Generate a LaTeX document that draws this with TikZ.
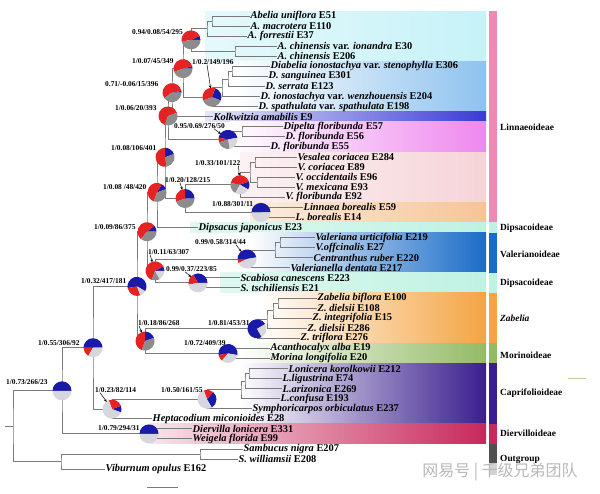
\documentclass[tikz,border=0pt]{standalone}
\usepackage{fontspec}
\setmainfont{Liberation Serif}
\newfontfamily\cjkfont{Noto Sans CJK SC}
\usetikzlibrary{arrows.meta}
\definecolor{treeg}{HTML}{7A7A7A}
\definecolor{pR}{HTML}{E42322}
\definecolor{pB}{HTML}{1A1AA8}
\definecolor{pG}{HTML}{8C8C8C}
\definecolor{pL}{HTML}{D6D6DE}
\definecolor{bAb}{HTML}{C6F2F8}
\definecolor{bDia}{HTML}{8EC2EE}
\definecolor{bKol}{HTML}{3A3AD6}
\definecolor{bDip}{HTML}{EE88EE}
\definecolor{bVes}{HTML}{F6D4D8}
\definecolor{bLin}{HTML}{F6C496}
\definecolor{bMint}{HTML}{BFF2E2}
\definecolor{bVal}{HTML}{1A6CC8}
\definecolor{bZab}{HTML}{F4A443}
\definecolor{bMor}{HTML}{93BB66}
\definecolor{bCap}{HTML}{3A1E8E}
\definecolor{bDie}{HTML}{C8285C}
\definecolor{sLin}{HTML}{EC8CB4}
\definecolor{sOut}{HTML}{505050}
\definecolor{tanc}{HTML}{D8C8A0}
\newcommand\pierad{9.5pt}
\newcommand\pseg[4]{\fill[#4] (#1) -- ++(#2:\pierad) arc[start angle=#2, end angle=#3, radius=\pierad] -- cycle;}
\newcommand\mypie[2]{\foreach \sa/\sb/\sc in {#2}{\pseg{#1}{\sa}{\sb}{\sc}}}
\begin{document}
\begin{tikzpicture}[x=1pt,y=-1pt,
  br/.style={draw=treeg, line width=1pt},
  leaf/.style={anchor=west, inner sep=0.5pt, font=\fontsize{10.4}{11}\selectfont\bfseries},
  plab/.style={anchor=west, inner sep=0pt, font=\fontsize{7.4}{8}\selectfont\bfseries},
  grp/.style={anchor=west, inner sep=0pt, font=\fontsize{9.4}{10}\selectfont\bfseries},
  arr/.style={-{Stealth[length=3pt,width=2.6pt]}, line width=0.5pt, shorten >=9pt}]
\useasboundingbox (0,0) rectangle (600,493);
\fill[white] (0,0) rectangle (600,493);
% clade bands
\shade[left color=bAb!45, right color=bAb] (205,11) rectangle (486,61.3);
\shade[left color=white, right color=bDia] (235,61.3) rectangle (486,111.7);
\shade[left color=bKol!12, right color=bKol] (205,111.7) rectangle (486,121.7);
\shade[left color=white, right color=bDip] (230,121.7) rectangle (486,152);
\shade[left color=bVes!30, right color=bVes] (240,152) rectangle (486,202.3);
\shade[left color=bLin!30, right color=bLin] (250,202.3) rectangle (486,222.4);
\shade[left color=bMint!50, right color=bMint] (190,222.4) rectangle (486,232.5);
\shade[left color=white, right color=bVal] (250,232.5) rectangle (486,272.8);
\shade[left color=bMint!50, right color=bMint] (220,272.8) rectangle (486,292.9);
\shade[left color=white, right color=bZab] (260,292.9) rectangle (486,343.2);
\shade[left color=white, right color=bMor] (240,343.2) rectangle (486,363.4);
\shade[left color=white, right color=bCap] (240,363.4) rectangle (486,423.8);
\shade[left color=bDie!12, right color=bDie] (150,423.8) rectangle (486,443.9);
% side strip
\fill[sLin] (489,11) rectangle (497,222.4);
\fill[bMint] (489,222.4) rectangle (497,232.5);
\fill[bVal] (489,232.5) rectangle (497,272.8);
\fill[bMint] (489,272.8) rectangle (497,292.9);
\fill[bZab] (489,292.9) rectangle (497,343.2);
\fill[bMor] (489,343.2) rectangle (497,363.4);
\fill[bCap] (489,363.4) rectangle (497,423.8);
\fill[bDie] (489,423.8) rectangle (497,443.9);
\fill[sOut] (489,443.9) rectangle (497,475);
% leaves
\node[leaf] (l0) at (250,16.0) {\textit{Abelia uniflora} E51};
\node[leaf] (l1) at (250,26.1) {\textit{A. macrotera} E110};
\node[leaf] (l2) at (247,36.1) {\textit{A. forrestii} E37};
\node[leaf] (l3) at (277,46.2) {\textit{A. chinensis} var. \textit{ionandra} E30};
\node[leaf] (l4) at (277,56.3) {\textit{A. chinensis} E206};
\node[leaf] (l5) at (270,66.4) {\textit{Diabelia ionostachya} var. \textit{stenophylla} E306};
\node[leaf] (l6) at (268,76.4) {\textit{D. sanguinea} E301};
\node[leaf] (l7) at (265,86.5) {\textit{D. serrata} E123};
\node[leaf] (l8) at (260,96.6) {\textit{D. ionostachya} var. \textit{wenzhouensis} E204};
\node[leaf] (l9) at (258,106.6) {\textit{D. spathulata} var. \textit{spathulata} E198};
\node[leaf] (l10) at (213,116.7) {\textit{Kolkwitzia amabilis} E9};
\node[leaf] (l11) at (283,126.8) {\textit{Dipelta floribunda} E57};
\node[leaf] (l12) at (285,136.8) {\textit{D. floribunda} E56};
\node[leaf] (l13) at (270,146.9) {\textit{D. floribunda} E55};
\node[leaf] (l14) at (297,157.0) {\textit{Vesalea coriacea} E284};
\node[leaf] (l15) at (297,167.1) {\textit{V. coriacea} E89};
\node[leaf] (l16) at (295,177.1) {\textit{V. occidentails} E96};
\node[leaf] (l17) at (295,187.2) {\textit{V. mexicana} E93};
\node[leaf] (l18) at (285,197.3) {\textit{V. floribunda} E92};
\node[leaf] (l19) at (303,207.3) {\textit{Linnaea borealis} E59};
\node[leaf] (l20) at (295,217.4) {\textit{L. borealis} E14};
\node[leaf] (l21) at (198,227.5) {\textit{Dipsacus japonicus} E23};
\node[leaf] (l22) at (315,237.5) {\textit{Valeriana urticifolia} E219};
\node[leaf] (l23) at (315,247.6) {\textit{V.offcinalis} E27};
\node[leaf] (l24) at (313,257.7) {\textit{Centranthus ruber} E220};
\node[leaf] (l25) at (290,267.8) {\textit{Valerianella dentata} E217};
\node[leaf] (l26) at (240,277.8) {\textit{Scabiosa canescens} E223};
\node[leaf] (l27) at (240,287.9) {\textit{S. tschiliensis} E21};
\node[leaf] (l28) at (317,298.0) {\textit{Zabelia biflora} E100};
\node[leaf] (l29) at (317,308.0) {\textit{Z. dielsii} E108};
\node[leaf] (l30) at (312,318.1) {\textit{Z. integrifolia} E15};
\node[leaf] (l31) at (307,328.2) {\textit{Z. dielsii} E286};
\node[leaf] (l32) at (300,338.2) {\textit{Z. triflora} E276};
\node[leaf] (l33) at (270,348.3) {\textit{Acanthocalyx alba} E19};
\node[leaf] (l34) at (270,358.4) {\textit{Morina longifolia} E20};
\node[leaf] (l35) at (288,368.5) {\textit{Lonicera korolkowii} E212};
\node[leaf] (l36) at (282,378.5) {\textit{L.ligustrina} E74};
\node[leaf] (l37) at (282,388.6) {\textit{L.arizonica} E269};
\node[leaf] (l38) at (280,398.7) {\textit{L.confusa} E193};
\node[leaf] (l39) at (252,408.7) {\textit{Symphoricarpos orbiculatus} E237};
\node[leaf] (l40) at (152,418.8) {\textit{Heptacodium miconioides} E28};
\node[leaf] (l41) at (192,428.9) {\textit{Diervilla lonicera} E331};
\node[leaf] (l42) at (192,438.9) {\textit{Weigela florida} E99};
\node[leaf] (l43) at (243,449.0) {\textit{Sambucus nigra} E207};
\node[leaf] (l44) at (238,459.1) {\textit{S. williamsii} E208};
\node[leaf] (l45) at (105,469.2) {\textit{Viburnum opulus} E162};
% internal nodes
\coordinate (Ab01) at (212,21.05);
\coordinate (Ab) at (207,28.6);
\coordinate (Ach) at (235,51.25);
\coordinate (N094) at (191,39.9);
\coordinate (D56) at (232,71.4);
\coordinate (D567) at (228,79.0);
\coordinate (D5678) at (222,87.8);
\coordinate (Diab) at (212,97.2);
\coordinate (N107) at (183,68.6);
\coordinate (N071) at (172,92.6);
\coordinate (Dp1112) at (242,131.8);
\coordinate (Dip) at (228,139.4);
\coordinate (N106) at (168,116.0);
\coordinate (V1415) at (255,162.0);
\coordinate (V1617) at (257,182.2);
\coordinate (V4) at (250,172.1);
\coordinate (Ves) at (240,184.7);
\coordinate (Lin) at (261,212.4);
\coordinate (N120) at (185,198.5);
\coordinate (N108a) at (165,157.3);
\coordinate (N108b) at (157,192.4);
\coordinate (Va2223) at (280,242.6);
\coordinate (Va3) at (275,250.1);
\coordinate (Val) at (247,259.0);
\coordinate (Sca) at (198,282.9);
\coordinate (N111) at (155,270.9);
\coordinate (N109) at (147,231.7);
\coordinate (Z2829) at (278,303.0);
\coordinate (Z3) at (273,310.6);
\coordinate (Z4) at (267,319.4);
\coordinate (Zab) at (257,328.8);
\coordinate (Mor) at (228,353.4);
\coordinate (N118) at (145,341.1);
\coordinate (N132) at (137,286.4);
\coordinate (L1) at (249,373.5);
\coordinate (L2) at (245,381.0);
\coordinate (L3) at (241,389.9);
\coordinate (N150) at (207,399.3);
\coordinate (N123) at (112,409.1);
\coordinate (N155) at (93,347.7);
\coordinate (Die) at (149,433.9);
\coordinate (N173) at (62,390.8);
\coordinate (Sam) at (200,454.0);
\coordinate (Out) at (61,461.6);
\coordinate (Root) at (13,426.2);
\coordinate (stub) at (5,426.2);
% branches
\draw[br] (l0.west) -| (Ab01) |- (l1.west);
\draw[br] (Ab01) -| (Ab) |- (l2.west);
\draw[br] (l3.west) -| (Ach) |- (l4.west);
\draw[br] (Ab) -| (N094) |- (Ach);
\draw[br] (l5.west) -| (D56) |- (l6.west);
\draw[br] (D56) -| (D567) |- (l7.west);
\draw[br] (D567) -| (D5678) |- (l8.west);
\draw[br] (D5678) -| (Diab) |- (l9.west);
\draw[br] (N094) -| (N107) |- (Diab);
\draw[br] (N107) -| (N071) |- (l10.west);
\draw[br] (l11.west) -| (Dp1112) |- (l12.west);
\draw[br] (Dp1112) -| (Dip) |- (l13.west);
\draw[br] (N071) -| (N106) |- (Dip);
\draw[br] (l14.west) -| (V1415) |- (l15.west);
\draw[br] (l16.west) -| (V1617) |- (l17.west);
\draw[br] (V1415) -| (V4) |- (V1617);
\draw[br] (V4) -| (Ves) |- (l18.west);
\draw[br] (l19.west) -| (Lin) |- (l20.west);
\draw[br] (Ves) -| (N120) |- (Lin);
\draw[br] (N106) -| (N108a) |- (N120);
\draw[br] (N108a) -| (N108b) |- (l21.west);
\draw[br] (l22.west) -| (Va2223) |- (l23.west);
\draw[br] (Va2223) -| (Va3) |- (l24.west);
\draw[br] (Va3) -| (Val) |- (l25.west);
\draw[br] (l26.west) -| (Sca) |- (l27.west);
\draw[br] (Val) -| (N111) |- (Sca);
\draw[br] (N108b) -| (N109) |- (N111);
\draw[br] (l28.west) -| (Z2829) |- (l29.west);
\draw[br] (Z2829) -| (Z3) |- (l30.west);
\draw[br] (Z3) -| (Z4) |- (l31.west);
\draw[br] (Z4) -| (Zab) |- (l32.west);
\draw[br] (l33.west) -| (Mor) |- (l34.west);
\draw[br] (Zab) -| (N118) |- (Mor);
\draw[br] (N109) -| (N132) |- (N118);
\draw[br] (l35.west) -| (L1) |- (l36.west);
\draw[br] (L1) -| (L2) |- (l37.west);
\draw[br] (L2) -| (L3) |- (l38.west);
\draw[br] (L3) -| (N150) |- (l39.west);
\draw[br] (N150) -| (N123) |- (l40.west);
\draw[br] (N132) -| (N155) |- (N123);
\draw[br] (l41.west) -| (Die) |- (l42.west);
\draw[br] (N155) -| (N173) |- (Die);
\draw[br] (l43.west) -| (Sam) |- (l44.west);
\draw[br] (Sam) -| (Out) |- (l45.west);
\draw[br] (N173) -| (Root) |- (Out);
\draw[br] (stub) -- (Root);
% pies
\mypie{N094}{0/25/pB,25/190/pR,190/360/pG}
\mypie{N107}{0/15/pB,15/200/pR,200/360/pG}
\mypie{N071}{0/10/pB,10/215/pR,215/360/pG}
\mypie{N106}{20/250/pR,250/380/pG}
\mypie{Diab}{-20/70/pB,70/200/pR,200/340/pG}
\mypie{Dip}{10/170/pB,170/200/pR,200/280/pG,280/370/pL}
\mypie{N108a}{20/90/pB,90/280/pR,280/380/pG}
\mypie{N108b}{20/60/pB,60/250/pR,250/380/pG}
\mypie{N120}{0/90/pB,90/200/pR,200/360/pG}
\mypie{Ves}{-30/20/pB,20/170/pR,170/240/pG,240/330/pL}
\mypie{Lin}{0/180/pB,180/360/pL}
\mypie{N109}{0/40/pB,40/230/pR,230/360/pG}
\mypie{N111}{0/30/pB,30/250/pR,250/300/pG,300/360/pL}
\mypie{Val}{10/180/pB,180/205/pR,205/370/pL}
\mypie{Sca}{0/120/pB,120/190/pR,190/360/pL}
\mypie{N132}{-30/190/pB,190/290/pR,290/330/pL}
\mypie{N118}{20/90/pB,90/250/pR,250/380/pG}
\mypie{Zab}{30/300/pB,300/390/pL}
\mypie{Mor}{-10/190/pB,190/230/pR,230/350/pL}
\mypie{N155}{0/180/pB,180/240/pR,240/360/pL}
\mypie{N173}{0/180/pB,180/360/pL}
\mypie{N123}{-20/20/pB,20/110/pR,110/340/pL}
\mypie{N150}{-60/50/pB,50/110/pR,110/300/pL}
\mypie{Die}{0/180/pB,180/360/pL}
% support labels
\node[plab] (t094) at (132,32) {0.94/0.08/54/295};
\node[plab] (t107) at (132,61) {1/0.07/45/349};
\node[plab] (t12) at (192,62) {1/0.2/149/196};
\node[plab] (t071) at (105,84) {0.71/-0.06/15/396};
\node[plab] (t106) at (115,108) {1/0.06/20/393};
\node[plab] (t095) at (174,126) {0.95/0.69/276/50};
\node[plab] (t108a) at (111,148) {1/0.08/106/401};
\node[plab] (t133) at (195,163) {1/0.33/101/122};
\node[plab] (t120) at (165,180) {1/0.20/128/215};
\node[plab] (t108b) at (103,187) {1/0.08 /48/420};
\node[plab] (t188) at (212,204) {1/0.88/301/11};
\node[plab] (t109) at (94,227) {1/0.09/86/375};
\node[plab] (t111) at (148,252) {1/0.11/63/307};
\node[plab] (t099a) at (195,242) {0.99/0.58/314/44};
\node[plab] (t099b) at (166,269) {0.99/0.37/223/85};
\node[plab] (t132) at (81,281) {1/0.32/417/181};
\node[plab] (t118) at (138,323) {1/0.18/86/268};
\node[plab] (t181) at (208,323) {1/0.81/453/31};
\node[plab] (t172) at (184,343) {1/0.72/409/39};
\node[plab] (t155) at (38,343) {1/0.55/306/92};
\node[plab] (t173) at (6,382) {1/0.73/266/23};
\node[plab] (t123) at (95,390) {1/0.23/82/114};
\node[plab] (t150) at (161,390) {1/0.50/161/55};
\node[plab] (t179) at (98,428) {1/0.79/294/31};
% arrows
\draw[arr] ([xshift=15pt]t12.south west) -- (Diab);
\draw[arr] ([xshift=-11pt]t095.south east) -- (Dip);
\draw[arr] ([xshift=-2pt]t133.south east) -- (Ves);
\draw[arr] ([xshift=15pt]t120.south west) -- (N120);
\draw[arr] ([xshift=2pt]t111.south west) -- (N111);
\draw[arr] ([xshift=-10pt]t099a.south east) -- (Val);
\draw[arr] ([xshift=19pt]t099b.south west) -- (Sca);
\draw[arr] ([xshift=1pt]t118.south west) -- (N118);
\draw[arr] ([xshift=5pt]t123.south west) -- (N123);
% group labels
\node[grp] (g1) at (500,127) {Linnaeoideae};
\node[grp] (g2) at (500,228) {Dipsacoideae};
\node[grp] (g3) at (500,254) {Valerianoideae};
\node[grp] (g4) at (500,283) {Dipsacoideae};
\node[grp] (g5) at (500,318) {\textit{Zabelia}};
\node[grp] (g6) at (500,355) {Morinoideae};
\node[grp] (g7) at (500,393) {Caprifolioideae};
\node[grp] (g8) at (500,433) {Diervilloideae};
\node[grp] (g9) at (500,459) {Outgroup};
% scale bar and marks
\draw[treeg, line width=1pt] (147,487) -- (178,487);
\draw[tanc, line width=1pt] (568,378) -- (586,378);
\node[font=\cjkfont\fontsize{16}{16}\selectfont, text=gray!55, fill=white, fill opacity=0.75, text opacity=1, inner sep=0.5pt] (wm) at (500,472) {网易号 | 千级兄弟团队};
\end{tikzpicture}
\end{document}
